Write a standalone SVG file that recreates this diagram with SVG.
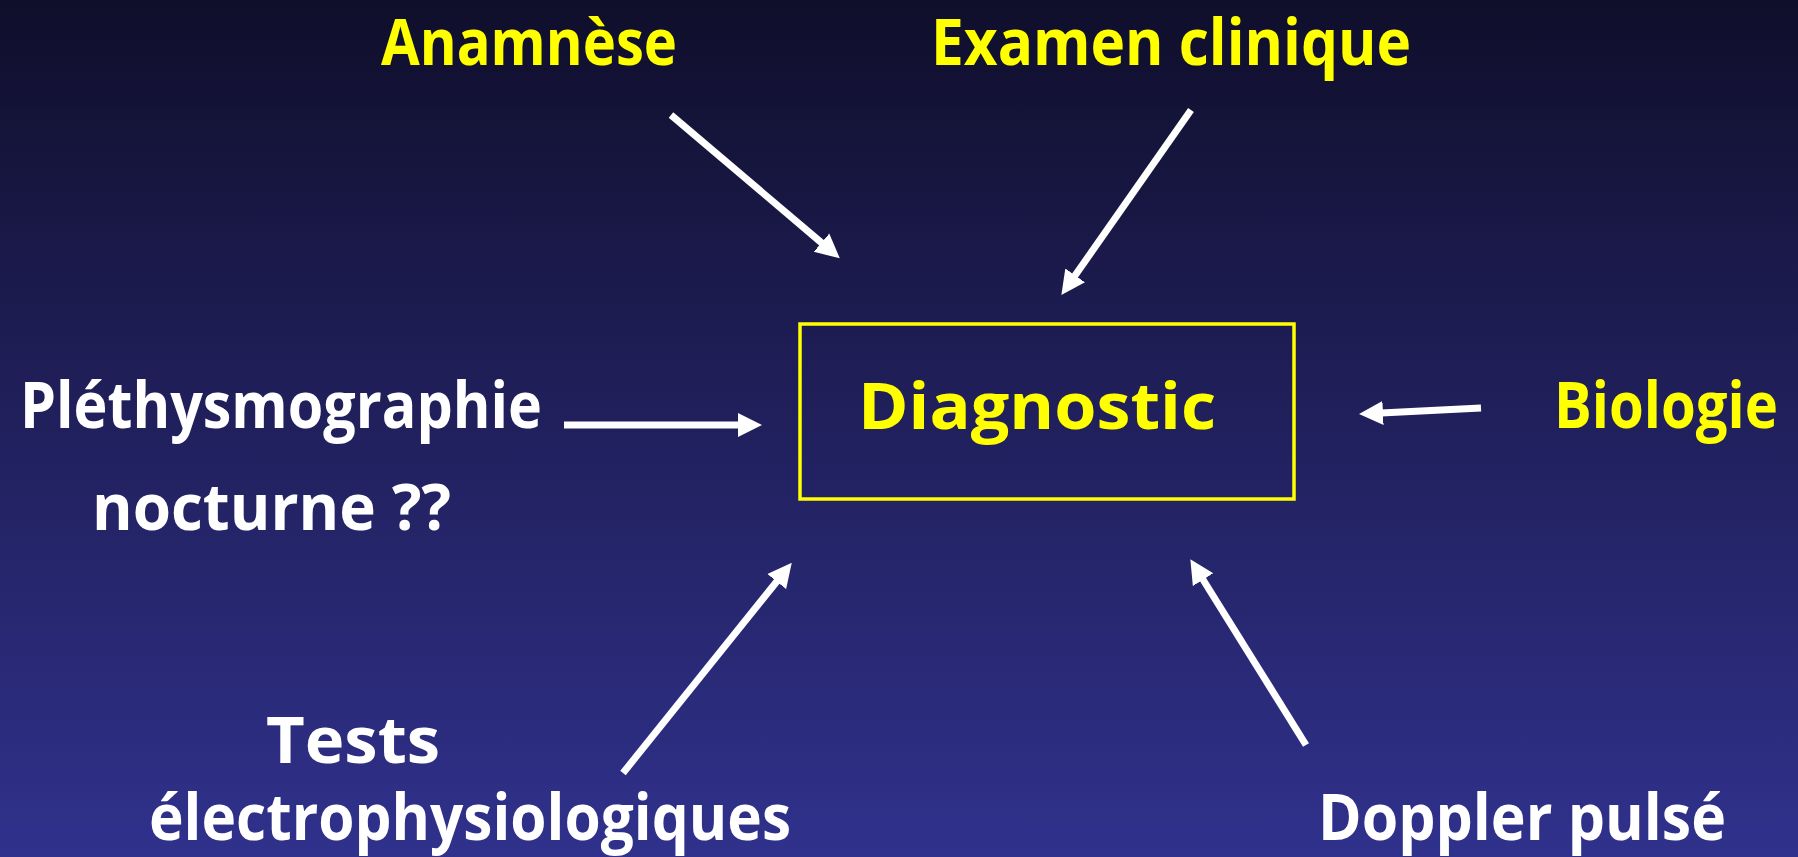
<svg xmlns="http://www.w3.org/2000/svg" width="1798" height="857" viewBox="0 0 1798 857">
<defs>
<linearGradient id="bg" x1="0" y1="0" x2="0" y2="1">
<stop offset="0" stop-color="#0f0e2a"/>
<stop offset="0.35" stop-color="#1c1b4f"/>
<stop offset="1" stop-color="#30318c"/>
</linearGradient>
<marker id="ah" markerUnits="userSpaceOnUse" markerWidth="24" markerHeight="26" refX="2" refY="13" orient="auto">
<path d="M0,1 L24,13 L0,25 z" fill="#ffffff"/>
</marker>
<style>
.t{font-family:"Open Sans","DejaVu Sans",sans-serif;font-weight:700;font-size:64px;}
.y{fill:#ffff00;}
.w{fill:#ffffff;}
.c{stroke:#ffffff;stroke-width:7;fill:none;marker-end:url(#ah);}
</style>
</defs>
<rect x="0" y="0" width="1798" height="857" fill="url(#bg)"/>
<g id="connectors">
<line class="c" x1="671" y1="115" x2="823" y2="244"/>
<line class="c" x1="1191" y1="110" x2="1074" y2="277"/>
<line class="c" x1="564" y1="425" x2="740" y2="425"/>
<line class="c" x1="1481" y1="408" x2="1381" y2="413"/>
<line class="c" x1="623" y1="773" x2="778" y2="580"/>
<line class="c" x1="1306" y1="745" x2="1202" y2="578"/>
</g>
<g id="diagnostic">
<rect x="800" y="324" width="494" height="175" fill="none" stroke="#ffff00" stroke-width="3.5"/>
<text class="t y" x="858" y="429" font-size="80" textLength="358" lengthAdjust="spacingAndGlyphs">Diagnostic</text>
</g>
<g id="anamnese">
<text class="t y" x="381" y="65" font-size="60" textLength="296" lengthAdjust="spacingAndGlyphs">Anamnèse</text>
</g>
<g id="examen">
<text class="t y" x="931" y="65" font-size="60" textLength="480" lengthAdjust="spacingAndGlyphs">Examen clinique</text>
</g>
<g id="biologie">
<text class="t y" x="1554" y="428" font-size="56" textLength="224" lengthAdjust="spacingAndGlyphs">Biologie</text>
</g>
<g id="plethysmographie">
<text class="t w"><tspan x="20" y="428" textLength="522" lengthAdjust="spacingAndGlyphs">Pléthysmographie</tspan><tspan x="92" y="530" textLength="359" lengthAdjust="spacingAndGlyphs">nocturne ??</tspan></text>
</g>
<g id="tests">
<text class="t w" x="266" y="763" font-size="56" textLength="174" lengthAdjust="spacingAndGlyphs">Tests</text>
<text class="t w" x="149" y="840" font-size="56" textLength="642" lengthAdjust="spacingAndGlyphs">électrophysiologiques</text>
</g>
<g id="doppler">
<text class="t w" x="1318" y="840" textLength="408" lengthAdjust="spacingAndGlyphs">Doppler pulsé</text>
</g>
</svg>
